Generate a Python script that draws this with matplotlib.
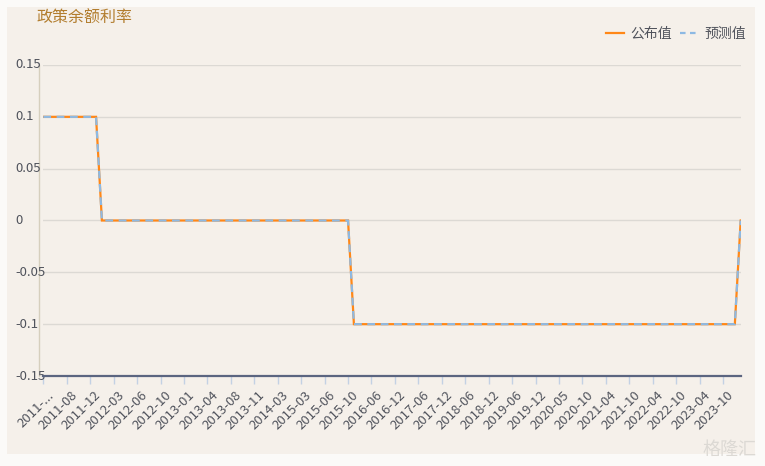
#!/usr/bin/env python3
"""Policy balance rate: published vs forecast step line."""

import numpy as np
import matplotlib
matplotlib.use('Agg')
import matplotlib.pyplot as plt
import matplotlib.transforms as mtransforms
from matplotlib.patches import Rectangle
from matplotlib.lines import Line2D

plt.rcParams['font.family'] = ['Noto Sans CJK SC', 'DejaVu Sans']

# --- data (one value per category, 120 categories) ---
published = [
    0.1, 0.1, 0.1, 0.1, 0.1, 0.1, 0.1, 0.1, 0.1, 0.1,
    0, 0, 0, 0, 0, 0, 0, 0, 0, 0,
    0, 0, 0, 0, 0, 0, 0, 0, 0, 0,
    0, 0, 0, 0, 0, 0, 0, 0, 0, 0,
    0, 0, 0, 0, 0, 0, 0, 0, 0, 0,
    0, 0, 0, -0.1, -0.1, -0.1, -0.1, -0.1, -0.1, -0.1,
    -0.1, -0.1, -0.1, -0.1, -0.1, -0.1, -0.1, -0.1, -0.1, -0.1,
    -0.1, -0.1, -0.1, -0.1, -0.1, -0.1, -0.1, -0.1, -0.1, -0.1,
    -0.1, -0.1, -0.1, -0.1, -0.1, -0.1, -0.1, -0.1, -0.1, -0.1,
    -0.1, -0.1, -0.1, -0.1, -0.1, -0.1, -0.1, -0.1, -0.1, -0.1,
    -0.1, -0.1, -0.1, -0.1, -0.1, -0.1, -0.1, -0.1, -0.1, -0.1,
    -0.1, -0.1, -0.1, -0.1, -0.1, -0.1, -0.1, -0.1, -0.1, 0,
]
# forecast coincides with the published line everywhere
forecast = list(published)

# only every 4th category is labelled in the chart
tick_labels = [
    '2011-...', '2011-08', '2011-12', '2012-03', '2012-06', '2012-10',
    '2013-01', '2013-04', '2013-08', '2013-11', '2014-03', '2015-03',
    '2015-06', '2015-10', '2016-06', '2016-12', '2017-06', '2017-12',
    '2018-06', '2018-12', '2019-06', '2019-12', '2020-05', '2020-10',
    '2021-04', '2021-10', '2022-04', '2022-10', '2023-04', '2023-10',
]
label_step = 4

y_ticks = [-0.15, -0.1, -0.05, 0, 0.05, 0.1, 0.15]
y_tick_labels = ['-0.15', '-0.1', '-0.05', '0', '0.05', '0.1', '0.15']

title = '政策余额利率'
series_names = ['公布值', '预测值']

# --- styling ---
W, H = 765, 466
outer_bg = '#fbfaf8'
panel_bg = '#f5f0ea'
orange = '#ff8717'
blue = '#8db9e3'
grid_color = '#dcd9d4'
text_color = '#50535c'

fig = plt.figure(figsize=(W / 100, H / 100), dpi=100, facecolor=outer_bg)

# beige panel behind the chart
fig.patches.append(Rectangle((7 / W, 1 - 454 / H), 748 / W, 447 / H,
                             transform=fig.transFigure, facecolor=panel_bg,
                             edgecolor='none', zorder=-10))

ax = fig.add_axes([43.3 / W, 1 - 376 / H, (740.7 - 43.3) / W, (376 - 65) / H])
ax.set_facecolor('none')

x = np.arange(len(published))
ax.plot(x, published, color=orange, lw=1.6, zorder=3, solid_joinstyle='miter')
ax.plot(x, forecast, color=blue, lw=1.6, zorder=4, dashes=(3.5, 2.5))

ax.set_xlim(0, len(published) - 1)
ax.set_ylim(-0.15, 0.15)

# y labels sit left-aligned at x ~ 15px in the reference, so draw them by hand
ax.set_yticks(y_ticks)
ax.tick_params(axis='y', length=0, labelleft=False)
ylab_trans = mtransforms.blended_transform_factory(fig.transFigure, ax.transData)
for yv, txt in zip(y_ticks, y_tick_labels):
    ax.text(15 / W, yv, txt, transform=ylab_trans, ha='left', va='center',
            fontsize=9.5, color=text_color, clip_on=False)
ax.grid(axis='y', color=grid_color, lw=1.0)
ax.set_axisbelow(True)

ax.set_xticks(x[::label_step])
ax.set_xticklabels(tick_labels, rotation=45, ha='right', va='top',
                   rotation_mode='anchor')
ax.tick_params(axis='x', length=6, width=1, color='#c3d1e4', pad=3,
               labelsize=9.5, labelcolor=text_color)
shift = mtransforms.ScaledTranslation(4 / 100, 0, fig.dpi_scale_trans)
for lbl in ax.get_xticklabels():
    lbl.set_transform(lbl.get_transform() + shift)

for side in ('top', 'right'):
    ax.spines[side].set_visible(False)
ax.spines['bottom'].set_color('#5b6580')
ax.spines['bottom'].set_linewidth(1.6)
ax.spines['bottom'].set_zorder(5)
ax.spines['left'].set_color('#d6cfbd')
ax.spines['left'].set_linewidth(1.0)
ax.spines['left'].set_position(('outward', 3))

fig.text(37 / W, 1 - 18 / H, title, fontsize=11.5, color='#b27d2e',
         ha='left', va='center')

handles = [Line2D([], [], color=orange, lw=1.6),
           Line2D([], [], color=blue, lw=1.6, dashes=(2.5, 2.0))]
fig.legend(handles, series_names, loc='center right', ncol=2, frameon=False,
           bbox_to_anchor=(746 / W, 1 - 34 / H), fontsize=10,
           labelcolor=text_color, handlelength=1.3, handletextpad=0.45,
           columnspacing=0.6, borderaxespad=0, borderpad=0)

# site watermark
fig.text(757 / W, 1 - 450 / H, '格隆汇', fontsize=13, color='#dcd9d4',
         ha='right', va='center')

fig.savefig('out.png', dpi=100, facecolor=outer_bg)
